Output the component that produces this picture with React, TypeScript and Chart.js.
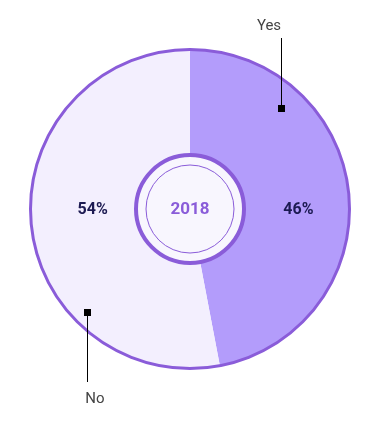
import React, { useEffect, useRef } from "react";
import { Chart, registerables } from "chart.js";

Chart.register(...registerables);

const categories = ["Yes", "No"];
const values = [47, 53];
const percentLabels = ["46%", "54%"];
const centerLabel = "2018";
const sliceColors = ["#b39cfb", "#f3effe"];
const markerAngles = [42, 225]; // degrees clockwise from top
const labelAngles = [90, 270];

const PURPLE = "#8a5cd9";
const FONT = "Roboto, 'Noto Sans', sans-serif";

const overlayPlugin = {
  id: "overlay",
  afterDatasetsDraw(chart: any) {
    const ctx = chart.ctx as CanvasRenderingContext2D;
    const meta = chart.getDatasetMeta(0);
    const arc0 = meta.data[0];
    if (!arc0) return;
    const cx = arc0.x;
    const cy = arc0.y;
    const R = arc0.outerRadius;
    ctx.save();
    // outer border
    ctx.beginPath();
    ctx.arc(cx, cy, R, 0, Math.PI * 2);
    ctx.lineWidth = 3;
    ctx.strokeStyle = PURPLE;
    ctx.stroke();

    // percentage labels
    labelAngles.forEach((deg, i) => {
      const a = (deg * Math.PI) / 180;
      const r = i === 0 ? R * 0.68 : R * 0.61;
      const x = cx + Math.sin(a) * r;
      const y = cy - Math.cos(a) * r;
      ctx.font = `bold 16px ${FONT}`;
      ctx.fillStyle = "#1c1a52";
      ctx.textAlign = "center";
      ctx.textBaseline = "middle";
      ctx.fillText(percentLabels[i], x, y + 1);
    });

    // leader lines and category labels
    markerAngles.forEach((deg, i) => {
      const a = (deg * Math.PI) / 180;
      const mr = i === 0 ? R * 0.855 : R * 0.915;
      const mx = Math.round(cx + Math.sin(a) * mr);
      const my = Math.round(cy - Math.cos(a) * mr);
      const up = Math.cos(a) > 0;
      const endY = up ? my - 70 : my + 70;
      ctx.beginPath();
      ctx.moveTo(mx + 0.5, my);
      ctx.lineTo(mx + 0.5, endY);
      ctx.lineWidth = 1;
      ctx.strokeStyle = "#000";
      ctx.stroke();
      ctx.fillStyle = "#000";
      ctx.fillRect(mx - 3, my - 3, 7, 7);
      ctx.font = `15px ${FONT}`;
      ctx.fillStyle = "#444";
      ctx.textAlign = "center";
      ctx.textBaseline = "middle";
      const tx = up ? mx - 12 : mx + 8;
      const ty = up ? endY - 12 : endY + 17;
      ctx.fillText(categories[i], tx, ty);
    });

    // center disc
    ctx.beginPath();
    ctx.arc(cx, cy, 54, 0, Math.PI * 2);
    ctx.fillStyle = "#f8f6fe";
    ctx.fill();
    ctx.lineWidth = 4;
    ctx.strokeStyle = PURPLE;
    ctx.stroke();
    ctx.beginPath();
    ctx.arc(cx, cy, 44, 0, Math.PI * 2);
    ctx.lineWidth = 1;
    ctx.strokeStyle = PURPLE;
    ctx.stroke();
    ctx.font = `bold 17px ${FONT}`;
    ctx.fillStyle = PURPLE;
    ctx.textAlign = "center";
    ctx.textBaseline = "middle";
    ctx.fillText(centerLabel, cx, cy + 1);
    ctx.restore();
  },
};

export default function App() {
  const ref = useRef<HTMLCanvasElement>(null);
  useEffect(() => {
    document.body.style.margin = "0";
    const chart = new Chart(ref.current!, {
      type: "pie",
      data: {
        labels: categories,
        datasets: [
          {
            data: values,
            backgroundColor: sliceColors,
            borderWidth: 0,
          },
        ],
      },
      options: {
        responsive: false,
        animation: false,
        layout: { padding: { left: 30.5, top: 49.5, right: 25.5, bottom: 55.5 } },
        plugins: { legend: { display: false }, tooltip: { enabled: false } },
      },
      plugins: [overlayPlugin],
    });
    return () => chart.destroy();
  }, []);
  return (
    <div style={{ width: 375, height: 424, background: "#fff" }}>
      <canvas ref={ref} width={375} height={424} />
    </div>
  );
}
